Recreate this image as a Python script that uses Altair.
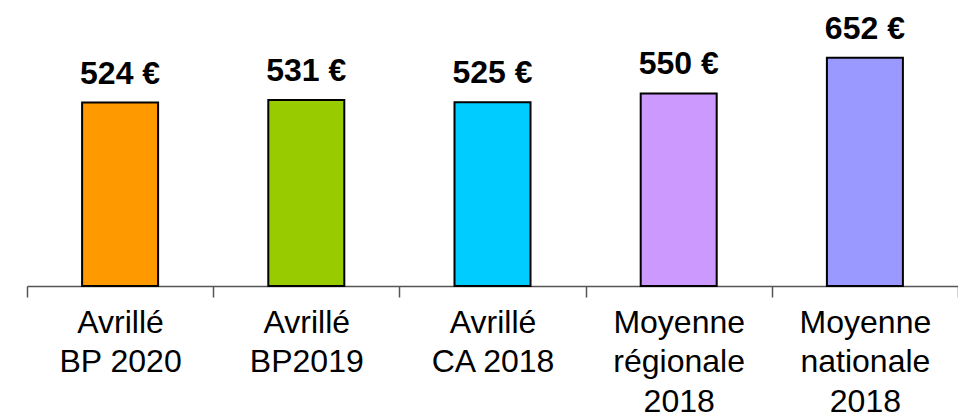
import altair as alt
import pandas as pd

categories = ["Avrillé\nBP 2020", "Avrillé\nBP2019", "Avrillé\nCA 2018",
              "Moyenne\nrégionale\n2018", "Moyenne\nnationale\n2018"]
values = [524, 531, 525, 550, 652]
colors = ["#FF9900", "#99CC00", "#00CCFF", "#CC99FF", "#9999FF"]

df = pd.DataFrame({
    "cat": categories,
    "val": values,
    "label": [f"{v} €" for v in values],
    "color": colors,
})

FONT = "Liberation Sans"

x = alt.X("cat:N", sort=categories, title=None,
          scale=alt.Scale(paddingInner=0, paddingOuter=0),
          axis=alt.Axis(labelAngle=0, labelExpr="split(datum.label, '\\n')",
                        labelFontSize=32, labelFont=FONT, labelColor="#000000",
                        labelLineHeight=39.5, labelPadding=10, tickBand="extent",
                        tickSize=11, tickColor="#555555", domainColor="#555555",
                        domainWidth=1.5, tickWidth=1.5, grid=False))
y = alt.Y("val:Q", scale=alt.Scale(domain=[0, 794], nice=False, zero=True), axis=None)

bars = alt.Chart(df).mark_bar(size=76, stroke="#000000", strokeWidth=2).encode(
    x=x, y=y, color=alt.Color("color:N", scale=None)
)
text = alt.Chart(df).mark_text(baseline="alphabetic", dy=-19, fontSize=32,
                               fontWeight="bold", font=FONT, color="#000000").encode(
    x=alt.X("cat:N", sort=categories), y=y, text="label:N"
)

chart = (bars + text).properties(
    width=931, height=278,
    autosize=alt.AutoSizeParams(type="none"),
    padding={"left": 19, "top": 0, "right": 0, "bottom": 136},
).configure_view(stroke=None)

chart.save("out.html", embed_options={"renderer": "svg", "actions": False})
